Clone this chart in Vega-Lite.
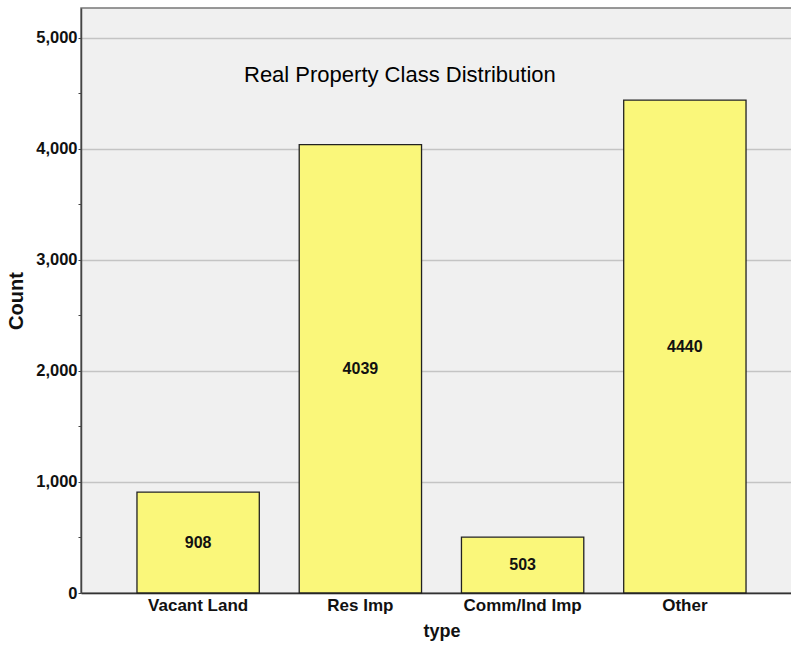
{
  "$schema": "https://vega.github.io/schema/vega-lite/v6.json",
  "autosize": "none",
  "padding": {"left": 81, "top": 8, "right": 0, "bottom": 52},
  "width": 721,
  "height": 585,
  "background": "#ffffff",
  "config": {
    "font": "Liberation Sans",
    "view": {"fill": "#f0f0f0", "stroke": "#777777", "strokeWidth": 1.5}
  },
  "title": {
    "text": "Real Property Class Distribution",
    "anchor": "start",
    "frame": "group",
    "dx": 163,
    "offset": -96,
    "baseline": "alphabetic",
    "fontSize": 22,
    "fontWeight": "normal",
    "font": "Liberation Sans",
    "color": "#000000"
  },
  "data": {
    "values": [
      {"type": "Vacant Land", "count": 908},
      {"type": "Res Imp", "count": 4039},
      {"type": "Comm/Ind Imp", "count": 503},
      {"type": "Other", "count": 4440}
    ]
  },
  "encoding": {
    "x": {
      "field": "type",
      "type": "nominal",
      "sort": null,
      "scale": {"paddingInner": 0.246, "paddingOuter": 0.345},
      "axis": {
        "title": "type",
        "labelAngle": 0,
        "labelFontSize": 17,
        "labelFontWeight": "bold",
        "labelColor": "#111111",
        "labelPadding": 4,
        "ticks": false,
        "domainColor": "#333333",
        "domainWidth": 1.5,
        "titleFontSize": 18,
        "titleFontWeight": "bold",
        "titleColor": "#111111",
        "titlePadding": 9
      }
    }
  },
  "layer": [
    {
      "mark": {"type": "bar", "fill": "#faf77a", "stroke": "#222222", "strokeWidth": 1.3},
      "encoding": {
        "y": {
          "field": "count",
          "type": "quantitative",
          "scale": {"domain": [0, 5270], "nice": false},
          "axis": {
            "title": "Count",
            "values": [0, 500, 1000, 1500, 2000, 2500, 3000, 3500, 4000, 4500, 5000],
            "labelExpr": "datum.value % 1000 === 0 ? format(datum.value, ',') : ''",
            "labelFontSize": 16.5,
            "labelFontWeight": "bold",
            "labelColor": "#111111",
            "labelPadding": 1,
            "tickSize": 3,
            "tickColor": "#444444",
            "domainColor": "#444444",
            "domainWidth": 1.5,
            "grid": true,
            "gridColor": "#c4c4c4",
            "gridWidth": 1.5,
            "gridOpacity": {"condition": {"test": "datum.value % 1000 === 0", "value": 1}, "value": 0},
            "titleFontSize": 20,
            "titleFontWeight": "bold",
            "titleColor": "#111111",
            "titlePadding": 9
          }
        }
      }
    },
    {
      "mark": {"type": "text", "fontSize": 16, "fontWeight": "bold", "color": "#111111", "baseline": "middle", "font": "Liberation Sans"},
      "encoding": {
        "y": {
          "field": "count",
          "type": "quantitative",
          "scale": {"domain": [0, 10540], "nice": false},
          "axis": null
        },
        "text": {"field": "count", "type": "quantitative", "format": "d"}
      }
    }
  ],
  "resolve": {"scale": {"y": "independent"}}
}
